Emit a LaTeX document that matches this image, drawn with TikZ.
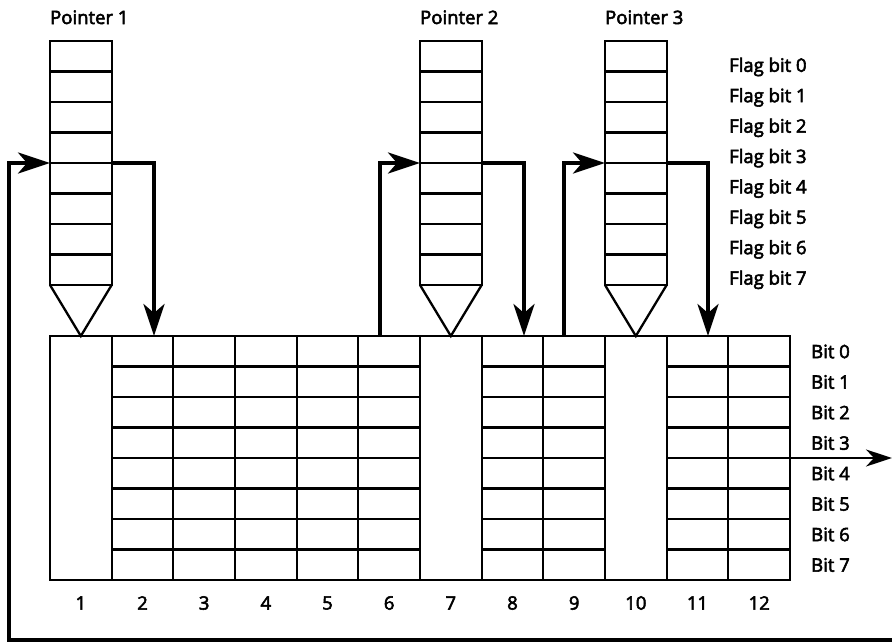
\documentclass[tikz,border=0pt]{standalone}
\usepackage{fontspec}
\setmainfont{Open Sans}
\usetikzlibrary{arrows.meta}
\newcommand\heavytext{\special{pdf:literal direct 2 Tr 0.55 w}}
\begin{document}
\begin{tikzpicture}[x=1pt,y=-1pt,
  gridline/.style={line width=2.3pt},
  flow/.style={line width=3.5pt, -{Stealth[length=32pt,width=21pt,inset=9pt]}},
  outflow/.style={line width=2.4pt, -{Stealth[length=26pt,width=17pt,inset=8pt]}},
  lbl/.style={font=\fontsize{18.5}{20}\selectfont, inner sep=0pt, execute at begin node={\heavytext}}]
\useasboundingbox (0,0) rectangle (892,643);
\pgfmathsetmacro\W{740/12}
% pointer stacks
\foreach \c/\n in {1/1,7/2,10/3} {
  \pgfmathsetmacro\L{50+(\c-1)*\W}
  \pgfmathsetmacro\R{\L+\W}
  \pgfmathsetmacro\M{\L+\W/2}
  \draw[gridline] (\L,41) rectangle (\R,285);
  \foreach \k in {1,...,7} \draw[gridline] (\L,41+\k*30.5) -- (\R,41+\k*30.5);
  \draw[gridline] (\L,285) -- (\M,336) -- (\R,285);
  \node[lbl, anchor=base west] (ptr\n) at (\L, 24) {Pointer \n};
  \coordinate (p\n w) at (\L,163);
  \coordinate (p\n e) at (\R,163);
}
% memory grid
\draw[gridline] (50,336) rectangle (790,580);
\foreach \i in {1,...,11} \draw[gridline] (50+\i*\W,336) -- (50+\i*\W,580);
\foreach \k in {1,...,7} {
  \draw[gridline] (50+\W,336+\k*30.5) -- (50+6*\W,336+\k*30.5);
  \draw[gridline] (50+7*\W,336+\k*30.5) -- (50+9*\W,336+\k*30.5);
  \draw[gridline] (50+10*\W,336+\k*30.5) -- (790,336+\k*30.5);
}
\foreach \i in {1,...,12} \node[lbl] (col\i) at (50+\i*\W-\W/2,603) {\i};
\foreach \k in {0,...,7} {
  \node[lbl, anchor=west] (bit\k) at (811,351.5+\k*30.5) {Bit \k};
  \node[lbl, anchor=west] (flag\k) at (729,67+\k*30.4) {Flag bit \k};
}
% connector coordinates
\coordinate (g1) at (154,336);
\coordinate (g6) at (380,336);
\coordinate (g8) at (524,336);
\coordinate (g9) at (564,336);
\coordinate (g11) at (708,336);
\coordinate (gout) at (790,458);
\coordinate (outend) at (892,458);
\coordinate (loopstart) at (892,640);
\coordinate (loopcorner) at (9,640);
% arrows
\draw[flow] (loopstart) -- (loopcorner) |- (p1w);
\draw[flow] (p1e) -| (g1);
\draw[flow] (g6) |- (p2w);
\draw[flow] (p2e) -| (g8);
\draw[flow] (g9) |- (p3w);
\draw[flow] (p3e) -| (g11);
\draw[outflow] (gout) -- (outend);
\end{tikzpicture}
\end{document}
